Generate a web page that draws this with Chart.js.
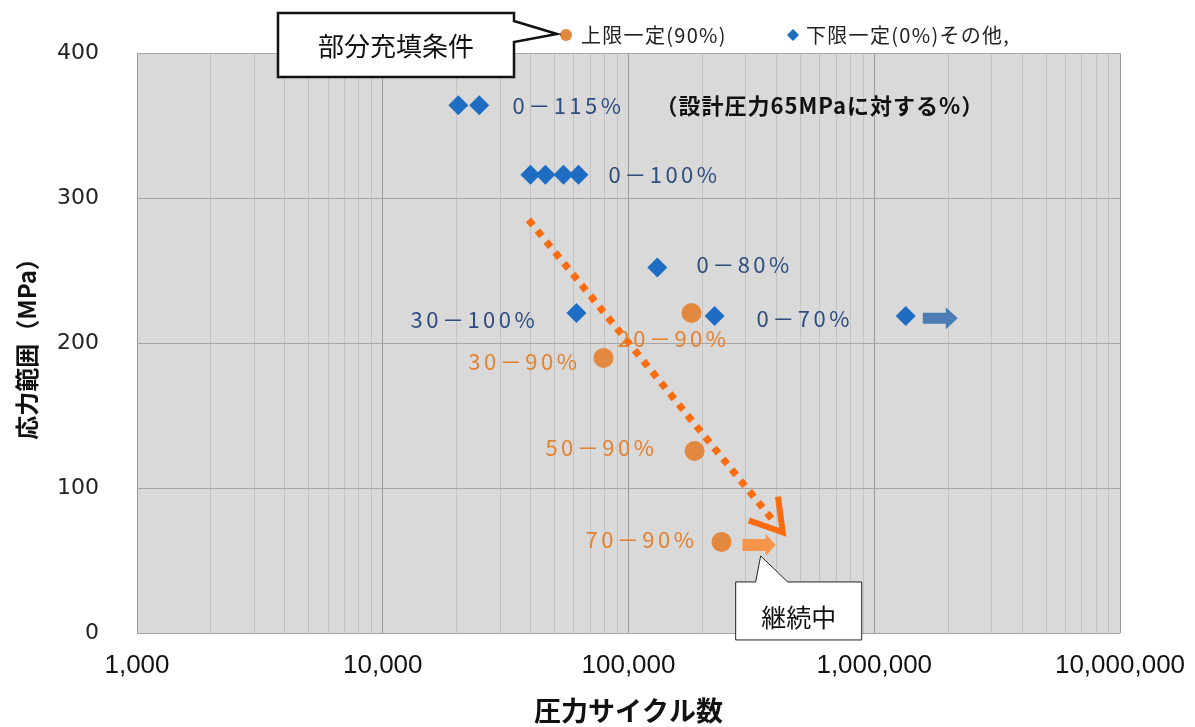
<!DOCTYPE html>
<html>
<head>
<meta charset="utf-8">
<script src="https://cdn.jsdelivr.net/npm/chart.js@4.4.1/dist/chart.umd.min.js"></script>
<style>
  html, body { margin: 0; padding: 0; background: #fff; }
</style>
</head>
<body>
<canvas id="chart" width="1195" height="727"></canvas>
<script>
// 上限一定(90%) : 20-90%, 30-90%, 50-90%, 70-90%
const upperCycles = [180500, 79100, 185800, 239000];
const upperStress = [220.7, 189.7, 125.5, 62.8];

// 下限一定(0%)その他 : 0-115% x2, 0-100% x4, 0-80%, 30-100%, 0-70% x2
const lowerCycles = [20300, 24700, 39900, 45900, 54400, 62600, 131000, 61400, 224000, 1343000];
const lowerStress = [364, 364, 316, 316, 316, 316, 252, 220.7, 218.6, 218.6];

// dotted trend arrow
const trendCycles = [39200, 386000];
const trendStress = [285, 78];

const xTickValues = [1000, 10000, 100000, 1000000, 10000000];
const yTickValues = [0, 100, 200, 300, 400];

const ORANGE = '#e3893f';
const ORANGE_TXT = '#e4812e';
const TREND = '#fa6c10';
const BLUE = '#1f6dc2';
const BLUE_TXT = '#2e4d7f';
const JP = '"Noto Sans CJK JP", "Noto Sans", sans-serif';

// text placed next to the points (x, y in data units)
const pointLabels = [
  { t: '0－115%', x: 33700, y: 364, c: BLUE_TXT },
  { t: '（設計圧力65MPaに対する%）', x: 128800, y: 364, c: '#111', bold: true },
  { t: '0－100%', x: 82900, y: 316, c: BLUE_TXT },
  { t: '0－80%', x: 189000, y: 254, c: BLUE_TXT },
  { t: '30－100%', x: 42950, y: 216, c: BLUE_TXT, right: true },
  { t: '0－70%', x: 332000, y: 216.6, c: BLUE_TXT },
  { t: '20－90%', x: 90200, y: 202.8, c: ORANGE_TXT },
  { t: '30－90%', x: 22300, y: 186.9, c: ORANGE_TXT },
  { t: '50－90%', x: 45900, y: 127.6, c: ORANGE_TXT },
  { t: '70－90%', x: 66800, y: 64.1, c: ORANGE_TXT }
];

function fatArrow(ctx, x0, x1, y, shaft, head, headLen, color) {
  ctx.fillStyle = color;
  ctx.beginPath();
  ctx.moveTo(x0, y - shaft / 2);
  ctx.lineTo(x1 - headLen, y - shaft / 2);
  ctx.lineTo(x1 - headLen, y - head / 2);
  ctx.lineTo(x1, y);
  ctx.lineTo(x1 - headLen, y + head / 2);
  ctx.lineTo(x1 - headLen, y + shaft / 2);
  ctx.lineTo(x0, y + shaft / 2);
  ctx.closePath();
  ctx.fill();
}

const decorations = {
  id: 'decorations',
  beforeDraw(chart) {
    const { ctx, chartArea: a } = chart;
    ctx.save();
    ctx.fillStyle = '#d9d9d9';
    ctx.fillRect(a.left, a.top, a.right - a.left, a.bottom - a.top);
    ctx.restore();
  },
  afterDatasetsDraw(chart) {
    const { ctx } = chart;
    const xs = chart.scales.x, ys = chart.scales.y;
    const px = v => xs.getPixelForValue(v);
    const py = v => ys.getPixelForValue(v);
    ctx.save();

    // chevron at the end of the trend line
    const sx = px(trendCycles[0]), sy = py(trendStress[0]);
    const ex = px(trendCycles[1]), ey = py(trendStress[1]);
    const ang = Math.atan2(ey - sy, ex - sx);
    const tipX = ex + 16 * Math.cos(ang), tipY = ey + 16 * Math.sin(ang);
    ctx.strokeStyle = TREND;
    ctx.lineWidth = 6;
    ctx.lineJoin = 'miter';
    ctx.beginPath();
    ctx.moveTo(tipX - 36 * Math.cos(ang - 0.55), tipY - 36 * Math.sin(ang - 0.55));
    ctx.lineTo(tipX, tipY);
    ctx.lineTo(tipX - 36 * Math.cos(ang + 0.55), tipY - 36 * Math.sin(ang + 0.55));
    ctx.stroke();

    // "continuing" arrows
    fatArrow(ctx, px(1576000), px(2188000), py(217), 11, 22, 12, '#4a7db3');
    fatArrow(ctx, px(291000), px(397000), py(60.7), 12, 22, 10, '#f7964a');

    // point labels
    ctx.textBaseline = 'middle';
    pointLabels.forEach(l => {
      ctx.font = (l.bold ? 'bold 22px ' : '22px ') + JP;
      ctx.letterSpacing = l.bold ? '1px' : '3.5px';
      ctx.fillStyle = l.c;
      ctx.textAlign = l.right ? 'right' : 'left';
      ctx.fillText(l.t, px(l.x), py(l.y));
    });
    ctx.letterSpacing = '0px';

    // callout: 継続中
    const bx0 = px(273000), bx1 = px(889000), by0 = py(35.2), by1 = by0 + 58;
    ctx.fillStyle = '#fff';
    ctx.strokeStyle = '#222';
    ctx.lineWidth = 1;
    ctx.beginPath();
    ctx.moveTo(bx0, by0);
    ctx.lineTo(bx0 + 20, by0);
    ctx.lineTo(bx0 + 25, by0 - 26);
    ctx.lineTo(bx0 + 52, by0);
    ctx.lineTo(bx1, by0);
    ctx.lineTo(bx1, by1);
    ctx.lineTo(bx0, by1);
    ctx.closePath();
    ctx.fill();
    ctx.stroke();
    ctx.fillStyle = '#111';
    ctx.font = '25px ' + JP;
    ctx.textAlign = 'center';
    ctx.fillText('継続中', (bx0 + bx1) / 2, by0 + 36);
    ctx.restore();
  },
  afterDraw(chart) {
    const { ctx } = chart;
    ctx.save();
    // legend
    ctx.textBaseline = 'middle';
    ctx.textAlign = 'left';
    ctx.font = '20px ' + JP;
    ctx.letterSpacing = '1.3px';
    ctx.fillStyle = ORANGE;
    ctx.beginPath();
    ctx.arc(566, 35, 6, 0, Math.PI * 2);
    ctx.fill();
    ctx.fillStyle = '#222';
    ctx.fillText('上限一定(90%)', 581, 35);
    ctx.fillStyle = BLUE;
    ctx.beginPath();
    ctx.moveTo(793, 29); ctx.lineTo(799, 35); ctx.lineTo(793, 41); ctx.lineTo(787, 35);
    ctx.closePath();
    ctx.fill();
    ctx.fillStyle = '#222';
    ctx.fillText('下限一定(0%)その他,', 806, 35);
    ctx.letterSpacing = '0px';

    // callout: 部分充填条件
    ctx.fillStyle = '#fff';
    ctx.strokeStyle = '#111';
    ctx.lineWidth = 2.5;
    ctx.beginPath();
    ctx.moveTo(278, 13);
    ctx.lineTo(514, 13);
    ctx.lineTo(514, 21);
    ctx.lineTo(557, 34);
    ctx.lineTo(514, 42);
    ctx.lineTo(514, 77);
    ctx.lineTo(278, 77);
    ctx.closePath();
    ctx.fill();
    ctx.stroke();
    ctx.fillStyle = '#111';
    ctx.font = '26px ' + JP;
    ctx.textAlign = 'center';
    ctx.fillText('部分充填条件', 396, 46);
    ctx.restore();
  }
};

const ctx = document.getElementById('chart').getContext('2d');
new Chart(ctx, {
  type: 'scatter',
  plugins: [decorations],
  data: {
    datasets: [
      {
        label: '上限一定(90%)',
        data: upperCycles.map((x, i) => ({ x: x, y: upperStress[i] })),
        pointStyle: 'circle',
        pointRadius: 10,
        backgroundColor: ORANGE,
        borderWidth: 0
      },
      {
        label: '下限一定(0%)その他,',
        data: lowerCycles.map((x, i) => ({ x: x, y: lowerStress[i] })),
        pointStyle: 'rectRot',
        pointRadius: 10,
        backgroundColor: BLUE,
        borderWidth: 0
      },
      {
        type: 'line',
        label: 'trend',
        data: trendCycles.map((x, i) => ({ x: x, y: trendStress[i] })),
        borderColor: TREND,
        borderWidth: 7,
        borderDash: [7, 7],
        pointRadius: 0,
        fill: false,
        order: -1
      }
    ]
  },
  options: {
    responsive: false,
    animation: false,
    layout: { padding: { top: 53, right: 75, left: 0, bottom: 0 } },
    plugins: {
      legend: { display: false },
      tooltip: { enabled: false }
    },
    scales: {
      x: {
        type: 'logarithmic',
        min: 1000,
        max: 10000000,
        afterBuildTicks: scale => {
          const t = [];
          for (let e = 3; e <= 7; e++) {
            for (let m = 1; m <= 9; m++) {
              const v = m * Math.pow(10, e);
              if (v <= 10000000) t.push({ value: v });
            }
          }
          scale.ticks = t;
        },
        afterFit: scale => {
          scale.height = 94;
          scale.paddingLeft = 0;
          scale.paddingRight = 0;
        },
        border: { display: false },
        grid: {
          drawTicks: false,
          color: c => xTickValues.includes(c.tick && c.tick.value) ? '#9b9b9b' : '#c2c2c2',
          lineWidth: 1
        },
        ticks: {
          autoSkip: false,
          maxRotation: 0,
          padding: 17,
          color: '#111',
          font: { family: '"Liberation Sans Narrow", "Liberation Sans", sans-serif', size: 26 },
          callback: v => xTickValues.includes(v) ? v.toLocaleString('en-US') : ''
        },
        title: {
          display: true,
          text: '圧力サイクル数',
          color: '#111',
          font: { family: JP, size: 27, weight: 'bold' },
          padding: { top: 0, bottom: 0 }
        }
      },
      y: {
        min: 0,
        max: 400,
        afterBuildTicks: scale => { scale.ticks = yTickValues.map(v => ({ value: v })); },
        afterFit: scale => { scale.width = 137; },
        border: { display: false },
        grid: { drawTicks: false, color: '#a6a6a6' },
        ticks: {
          padding: 38,
          color: '#222',
          font: { family: '"DejaVu Sans", sans-serif', size: 22 }
        },
        title: {
          display: true,
          text: '応力範囲（MPa）',
          color: '#111',
          font: { family: JP, size: 24, weight: 'bold' },
          padding: { top: 12, bottom: 0 }
        }
      }
    }
  }
});
</script>
</body>
</html>
